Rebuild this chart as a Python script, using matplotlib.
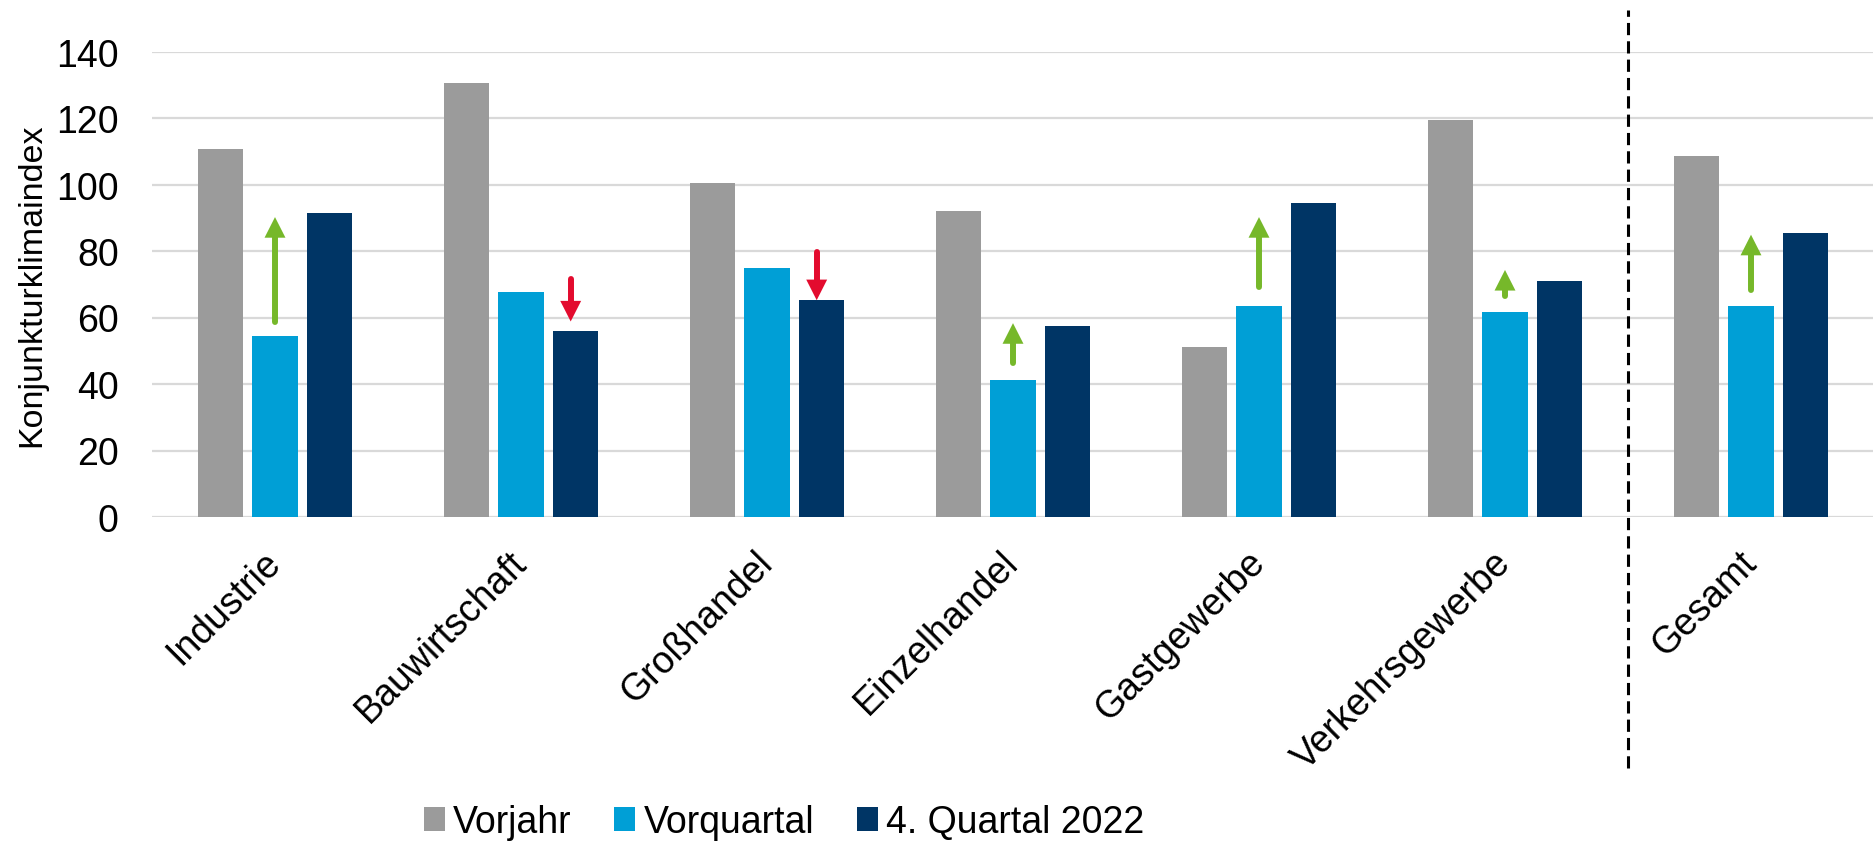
import matplotlib
matplotlib.use("Agg")
import matplotlib.pyplot as plt
import numpy as np

plt.rcParams['font.family'] = ['Liberation Sans', 'DejaVu Sans']

categories = ["Industrie", "Bauwirtschaft", "Großhandel", "Einzelhandel",
              "Gastgewerbe", "Verkehrsgewerbe", "Gesamt"]
series_names = ["Vorjahr", "Vorquartal", "4. Quartal 2022"]
vorjahr = [110.7, 130.4, 100.5, 92.0, 51.2, 119.3, 108.6]
vorquartal = [54.3, 67.7, 74.8, 41.3, 63.6, 61.8, 63.4]
quartal = [91.5, 55.8, 65.2, 57.3, 94.5, 71.1, 85.3]
colors = ["#9B9B9B", "#009FD6", "#003565"]

# change arrows: start value, tip value
arrow_start = [57.8, 72.5, 80.6, 45.4, 68.2, 65.5, 67.5]
arrow_end = [90.2, 58.8, 65.2, 58.3, 90.2, 74.3, 84.9]
arrow_up_color = "#76B82A"
arrow_down_color = "#E30B2E"

yticks = [0, 20, 40, 60, 80, 100, 120, 140]

fig = plt.figure(figsize=(18.74, 8.45), dpi=100)
ax = fig.add_axes([152/1874, 1-518/845, 1-152/1874, (518-52.5)/845])

x = np.arange(len(categories))
bw = 0.186
off = 0.222
for i, (vals, c, name) in enumerate(zip([vorjahr, vorquartal, quartal], colors, series_names)):
    ax.bar(x + (i-1)*off, vals, width=bw, color=c, label=name, zorder=3)

hl = 6.2      # head length (data units)
cap = 0.9     # half shaft width in data-y units (for round tail cap)
for i in range(len(categories)):
    s, e = arrow_start[i], arrow_end[i]
    if e > s:
        xa = x[i]
        col = arrow_up_color
        sign = 1
    else:
        xa = x[i] + off - 0.02
        col = arrow_down_color
        sign = -1
    ax.plot([xa, xa], [s + sign*cap, e - sign*(hl - 0.5)], color=col, lw=4.3,
            solid_capstyle='round', zorder=4)
    ax.arrow(xa, e - sign*hl, 0, sign*hl, width=0, head_width=0.085, head_length=hl,
             length_includes_head=True, color=col, lw=0, zorder=4)

ax.set_xlim(-0.5, len(categories) - 0.5)
ax.set_ylim(0, 140)
ax.set_yticks(yticks)
ax.yaxis.grid(True, color="#D9D9D9", lw=1.6, zorder=0)
ax.set_axisbelow(True)
for sp in ax.spines.values():
    sp.set_visible(False)
ax.tick_params(axis='both', length=0, labelsize=27)
ax.tick_params(axis='y', pad=24)
ax.set_xticks(x)
ax.set_xticklabels(categories, rotation=45, ha='right', va='center',
                   rotation_mode='anchor')
ax.tick_params(axis='x', pad=28.5)

ax.set_ylabel("Konjunkturklimaindex", fontsize=24.5)
ax.yaxis.set_label_coords(-(152-47)/1722, 0.5)

# separator between sectors and total
ax.axvline(len(categories) - 1.5, ymin=-0.54, ymax=1.09, color="black", lw=2.2,
           ls=(0, (4, 2)), clip_on=False, zorder=5)

fig.legend(loc='center', bbox_to_anchor=(0.4184, 0.026), ncol=3, frameon=False,
           fontsize=27, handlelength=0.56, handleheight=0.6, handletextpad=0.21,
           columnspacing=1.15, borderpad=0, borderaxespad=0)

fig.savefig("out.png", dpi=100)
